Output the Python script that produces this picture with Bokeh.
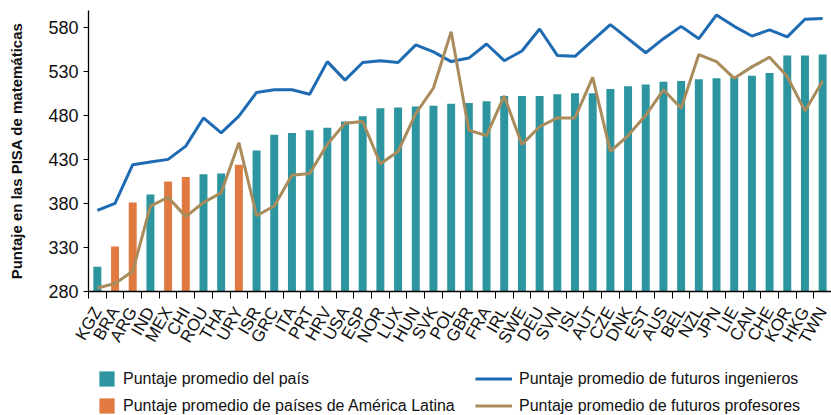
from bokeh.plotting import figure
from bokeh.layouts import column
from bokeh.models import Range1d, FixedTicker, Legend, LegendItem, ColumnDataSource
from bokeh.embed import file_html
from bokeh.resources import INLINE

countries = ["KGZ", "BRA", "ARG", "IND", "MEX", "CHI", "ROU", "THA", "URY", "ISR",
             "GRC", "ITA", "PRT", "HRV", "USA", "ESP", "NOR", "LUX", "HUN", "SVK",
             "POL", "GBR", "FRA", "IRL", "SWE", "DEU", "SVN", "ISL", "AUT", "CZE",
             "DNK", "EST", "AUS", "BEL", "NZL", "JPN", "LIE", "CAN", "CHE", "KOR",
             "HKG", "TWN"]
latin_america = ["BRA", "ARG", "MEX", "CHI", "URY"]
country_score = [308, 331, 381, 390, 405, 410, 413, 414, 424, 440,
                 458, 460, 463, 466, 473, 479, 488, 489, 490, 491,
                 493, 494, 496, 502, 502, 502, 504, 505, 505, 510,
                 513, 515, 518, 519, 521, 522, 523, 525, 528, 548,
                 548, 549]
engineers = [372, 380, 424, 427, 430, 445, 477, 460, 479, 506,
             509, 509, 504, 541, 520, 540, 542, 540, 560, 552,
             541, 545, 561, 542, 553, 578, 548, 547, 565, 583,
             567, 551, 567, 581, 567, 594, 581, 570, 577, 569,
             589, 590]
teachers = [284, 289, 303, 377, 387, 365, 381, 392, 449, 366,
            377, 412, 414, 447, 471, 473, 425, 439, 482, 511,
            575, 463, 457, 502, 447, 467, 477, 477, 523, 439,
            457, 480, 509, 488, 549, 541, 522, 535, 546, 524,
            485, 519]
y_ticks = [280, 330, 380, 430, 480, 530, 580]

labels = {
    "bar": "Puntaje promedio del país",
    "latam": "Puntaje promedio de países de América Latina",
    "eng": "Puntaje promedio de futuros ingenieros",
    "tea": "Puntaje promedio de futuros profesores",
}

TEAL = "#2C95A0"
ORANGE = "#E07A40"
BLUE = "#1F6BB3"
TAN = "#A98B5C"
FONT = "Liberation Sans"
TXT = "#111111"

idx = list(range(len(countries)))
is_lat = [c in latin_america for c in countries]
src_other = ColumnDataSource(dict(
    x=[i for i, l in zip(idx, is_lat) if not l],
    top=[v for v, l in zip(country_score, is_lat) if not l]))
src_lat = ColumnDataSource(dict(
    x=[i for i, l in zip(idx, is_lat) if l],
    top=[v for v, l in zip(country_score, is_lat) if l]))
src_lines = ColumnDataSource(dict(x=idx, eng=engineers, tea=teachers))

p = figure(width=831, height=355, output_backend="svg", toolbar_location=None,
           x_range=Range1d(-0.5, len(countries) - 0.5),
           y_range=Range1d(y_ticks[0], 599),
           min_border_left=88, min_border_right=0, min_border_top=10,
           min_border_bottom=64)
p.outline_line_color = None
p.xgrid.grid_line_color = None
p.ygrid.grid_line_color = None
p.background_fill_color = "white"
p.border_fill_color = "white"

bar_style = dict(width=0.45, line_color=None)
p.vbar(x="x", top="top", bottom=y_ticks[0], source=src_other, fill_color=TEAL, **bar_style)
p.vbar(x="x", top="top", bottom=y_ticks[0], source=src_lat, fill_color=ORANGE, **bar_style)
p.line(x="x", y="eng", source=src_lines, line_color=BLUE, line_width=3)
p.line(x="x", y="tea", source=src_lines, line_color=TAN, line_width=3)

# x axis
xa = p.xaxis[0]
xa.ticker = FixedTicker(ticks=idx, minor_ticks=[i - 0.5 for i in range(len(countries) + 1)])
xa.major_label_overrides = {i: c for i, c in enumerate(countries)}
xa.major_label_orientation = 1.05
xa.major_label_text_font = FONT
xa.major_label_text_font_size = "17px"
xa.major_label_text_color = TXT
xa.major_label_standoff = 10
xa.major_tick_out = 0
xa.major_tick_in = 0
xa.minor_tick_out = 7
xa.minor_tick_in = 0
xa.minor_tick_line_color = "black"
xa.axis_line_color = "black"
xa.axis_line_width = 1.3

# y axis
ya = p.yaxis[0]
ya.ticker = FixedTicker(ticks=y_ticks)
ya.major_label_text_font = FONT
ya.major_label_text_font_size = "18px"
ya.major_label_text_color = TXT
ya.major_label_standoff = 5
ya.major_tick_out = 5
ya.major_tick_in = 0
ya.major_tick_line_color = "black"
ya.minor_tick_line_color = None
ya.axis_line_color = "black"
ya.axis_line_width = 1.3
ya.axis_label = "Puntaje en las PISA de matemáticas"
ya.axis_label_text_font = FONT
ya.axis_label_text_font_style = "bold"
ya.axis_label_text_font_size = "15px"
ya.axis_label_text_color = TXT
ya.axis_label_standoff = 20

# legend strip below the chart (legend-only renderers sit outside its visible range)
q = figure(width=831, height=60, output_backend="svg", toolbar_location=None,
           x_range=Range1d(0, 1), y_range=Range1d(0, 1),
           x_axis_type=None, y_axis_type=None,
           min_border_left=0, min_border_right=0, min_border_top=0, min_border_bottom=0)
q.outline_line_color = None
q.xgrid.grid_line_color = None
q.ygrid.grid_line_color = None
q.background_fill_color = "white"
q.border_fill_color = "white"

lr_bar = q.vbar(x=[-10], top=[-5], bottom=-6, fill_color=TEAL, **bar_style)
lr_lat = q.vbar(x=[-10], top=[-5], bottom=-6, fill_color=ORANGE, **bar_style)
lr_eng = q.line(x=[-10, -9], y=[-10, -10], line_color=BLUE, line_width=3)
lr_tea = q.line(x=[-10, -9], y=[-10, -10], line_color=TAN, line_width=3)


def make_legend(items, loc, gw):
    return Legend(items=items, location=loc, orientation="vertical",
                  glyph_width=gw, glyph_height=19, label_height=19,
                  label_standoff=7, spacing=8, padding=0, margin=0,
                  border_line_color=None, background_fill_alpha=0,
                  label_text_font=FONT, label_text_font_size="16px",
                  label_text_color=TXT)


leg1 = make_legend([LegendItem(label=labels["bar"], renderers=[lr_bar]),
                    LegendItem(label=labels["latam"], renderers=[lr_lat])],
                   (9, 0), 19)
leg2 = make_legend([LegendItem(label=labels["eng"], renderers=[lr_eng]),
                    LegendItem(label=labels["tea"], renderers=[lr_tea])],
                   (387, 0), 37)
q.add_layout(leg1)
q.add_layout(leg2)

layout = column(p, q, spacing=0)
open("out.html", "w").write(file_html(layout, INLINE))
